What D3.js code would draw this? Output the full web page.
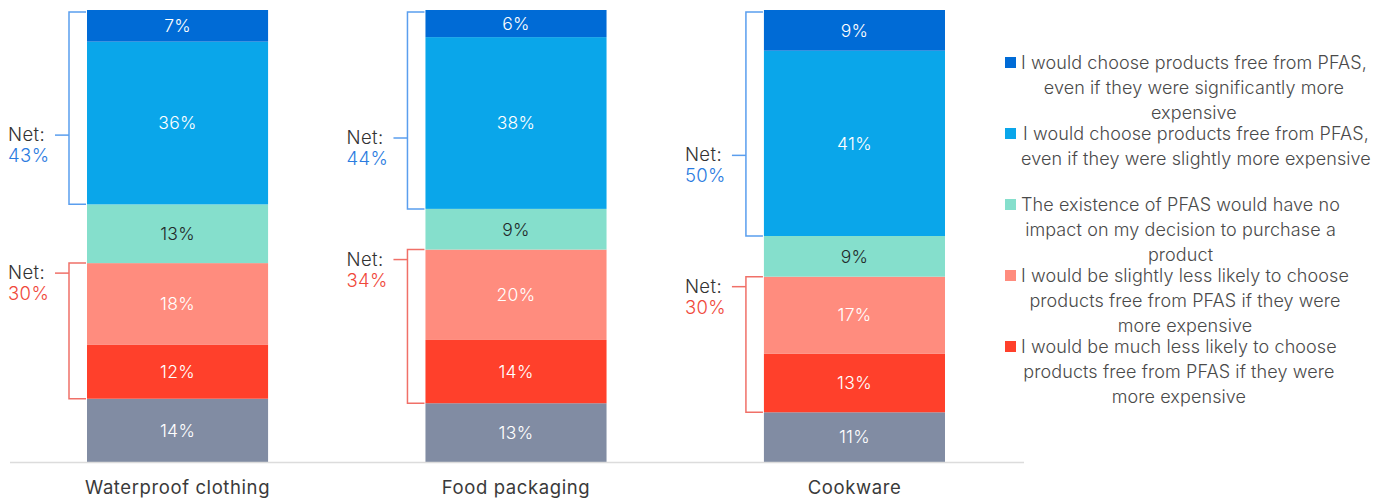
<!DOCTYPE html>
<html>
<head>
<meta charset="utf-8">
<script src="https://cdn.jsdelivr.net/npm/d3@7"></script>
<style>
  html, body { margin: 0; padding: 0; background: #fff; }
  svg { display: block; font-family: Inter, "Open Sans", sans-serif; font-weight: 300; }
</style>
</head>
<body>
<svg id="chart" width="1386" height="504"></svg>
<script>
// Product categories (x axis)
const categories = ["Waterproof clothing", "Food packaging", "Cookware"];

// Share of respondents per answer, % (one value per category)
const significantlyMore = [7, 6, 9];
const slightlyMore = [36, 38, 41];
const noImpact = [13, 9, 9];
const slightlyLess = [18, 20, 17];
const muchLess = [12, 14, 13];
const other = [14, 13, 11];

// Net figures shown beside the brackets
const netChoose = [43, 44, 50];
const netLess = [30, 34, 30];

// Legend labels, already broken into lines
const legendLabels = [
  ["I would choose products free from PFAS,", "even if they were significantly more", "expensive"],
  ["I would choose products free from PFAS,", "even if they were slightly more expensive"],
  ["The existence of PFAS would have no", "impact on my decision to purchase a", "product"],
  ["I would be slightly less likely to choose", "products free from PFAS if they were", "more expensive"],
  ["I would be much less likely to choose", "products free from PFAS if they were", "more expensive"]
];

// Stack order, bottom to top
const keys = ["other", "muchLess", "slightlyLess", "noImpact", "slightlyMore", "significantlyMore"];
const series = { other, muchLess, slightlyLess, noImpact, slightlyMore, significantlyMore };
const colors = {
  significantlyMore: "#006bd6",
  slightlyMore: "#0aa6ea",
  noImpact: "#85dfcc",
  slightlyLess: "#ff8c7e",
  muchLess: "#ff402b",
  other: "#818ca3"
};
const labelColors = { noImpact: "#1f2a2a" };
const legendKeys = ["significantlyMore", "slightlyMore", "noImpact", "slightlyLess", "muchLess"];

const rows = categories.map((c, i) => {
  const r = { category: c };
  keys.forEach(k => r[k] = series[k][i]);
  return r;
});

const svg = d3.select("#chart");

const x = d3.scaleBand().domain(categories).range([87, 945]).paddingInner(0.465).paddingOuter(0);
const y = d3.scaleLinear().domain([0, 100]).range([462, 10]);

const stacked = d3.stack().keys(keys)(rows);

// Bars
const layers = svg.append("g").selectAll("g")
  .data(stacked).join("g")
  .attr("fill", d => colors[d.key]);

layers.selectAll("rect")
  .data(d => d.map(v => ({ key: d.key, v })))
  .join("rect")
  .attr("x", d => x(d.v.data.category))
  .attr("width", x.bandwidth())
  .attr("y", d => y(d.v[1]))
  .attr("height", d => y(d.v[0]) - y(d.v[1]));

// Segment value labels
layers.selectAll("text")
  .data(d => d.map(v => ({ key: d.key, v })))
  .join("text")
  .attr("x", d => x(d.v.data.category) + x.bandwidth() / 2)
  .attr("y", d => (y(d.v[0]) + y(d.v[1])) / 2)
  .attr("dy", "0.36em")
  .attr("text-anchor", "middle")
  .attr("font-size", 17.5)
  .attr("letter-spacing", 0.3)
  .attr("fill", d => labelColors[d.key] || "#ffffff")
  .text(d => (d.v[1] - d.v[0]) + "%");

// Baseline
svg.append("line")
  .attr("x1", 10).attr("x2", 1024)
  .attr("y1", 462.5).attr("y2", 462.5)
  .attr("stroke", "#dcdcdc").attr("stroke-width", 1.5);

// Category labels
const xAxis = d3.axisBottom(x).tickSize(0).tickPadding(0);
const ax = svg.append("g").attr("transform", "translate(0,481)").call(xAxis);
ax.select(".domain").remove();
ax.selectAll("text")
  .attr("font-family", "Inter, sans-serif")
  .attr("font-weight", 400)
  .attr("font-size", 18.5)
  .attr("letter-spacing", 0.6)
  .attr("fill", "#3a3a3a")
  .attr("dy", "0.71em");

// Net brackets
const layerByKey = {};
stacked.forEach(s => layerByKey[s.key] = s);

function bracket(i, topVal, bottomVal, tickAt, netValue, lineColor, textColor) {
  const cat = categories[i];
  const bx = x(cat) - 18;
  const top = y(topVal) + (topVal >= 100 ? 2 : 0);
  const bottom = y(bottomVal);
  const ty = tickAt(top, bottom);
  const g = svg.append("g");
  g.append("path")
    .attr("d", `M${x(cat) - 1},${top}H${bx}V${bottom}H${x(cat) - 1}`)
    .attr("fill", "none")
    .attr("stroke", lineColor)
    .attr("stroke-width", 1.5);
  g.append("line")
    .attr("x1", bx - 14).attr("x2", bx)
    .attr("y1", ty).attr("y2", ty)
    .attr("stroke", lineColor).attr("stroke-width", 1.5);
  g.append("text")
    .attr("x", bx - 61).attr("y", ty + 6)
    .attr("font-size", 18.5).attr("letter-spacing", 0.4).attr("fill", "#333")
    .text("Net:");
  g.append("text")
    .attr("x", bx - 61).attr("y", ty + 27)
    .attr("font-size", 18.5).attr("letter-spacing", 0.4).attr("fill", textColor)
    .text(netValue + "%");
}

categories.forEach((c, i) => {
  const sm = layerByKey.significantlyMore[i];
  const sl = layerByKey.slightlyMore[i];
  bracket(i, sm[1], sl[0], (t, b) => t + 0.64 * (b - t), netChoose[i], "#5a9eee", "#2a7be0");
  const ls = layerByKey.slightlyLess[i];
  const ml = layerByKey.muchLess[i];
  bracket(i, ls[1], ml[0], (t, b) => t + 10, netLess[i], "#f07068", "#f0483a");
});

// Legend
const legend = svg.append("g").attr("transform", "translate(1005,0)");
legendKeys.forEach((k, i) => {
  const g = legend.append("g").attr("transform", `translate(0,${69 + i * 71})`);
  g.append("rect")
    .attr("x", 0).attr("y", -12)
    .attr("width", 11).attr("height", 11)
    .attr("fill", colors[k]);
  const lines = legendLabels[i];
  const texts = g.selectAll("text").data(lines).join("text")
    .attr("y", (d, j) => j * 25)
    .attr("font-size", 18)
    .attr("letter-spacing", 0.1)
    .attr("fill", "#4a4a4a")
    .text(d => d);
  const widths = texts.nodes().map(n => n.getComputedTextLength());
  const maxW = d3.max(widths);
  texts.attr("x", (d, j) => 16 + (maxW - widths[j]) / 2);
});
</script>
</body>
</html>
